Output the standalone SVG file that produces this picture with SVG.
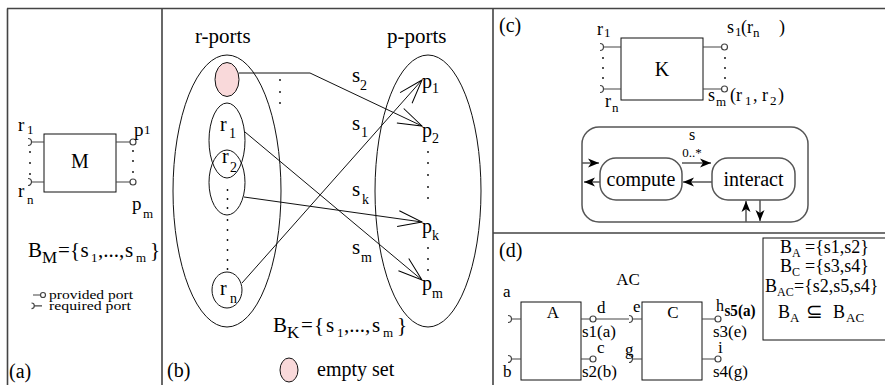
<svg xmlns="http://www.w3.org/2000/svg" width="885" height="385" viewBox="0 0 885 385">
<defs>
<style>
text{font-family:"Liberation Serif","Times New Roman",serif;fill:#000}
.f21{font-size:21px}
.f20{font-size:20px}
.f19{font-size:19px}
.f18{font-size:18px}
.f17{font-size:17px}
.f16{font-size:16px}
.f14{font-size:14px}
.f13{font-size:13px}
.f12{font-size:12px}
.mid{text-anchor:middle}
.ln{fill:none;stroke:#111;stroke-width:1}
.pt{fill:none;stroke:#444;stroke-width:1.2}
.gl{fill:none;stroke:#555;stroke-width:1.5}
.frame{fill:none;stroke:#444;stroke-width:1.6}
.dot{fill:#000}
</style>
<marker id="open" markerUnits="userSpaceOnUse" viewBox="-26 -10 28 20" refX="0" refY="0" markerWidth="28" markerHeight="20" orient="auto">
<path d="M-24,-8 L0,0 L-24,8" fill="none" stroke="#000" stroke-width="1"/>
</marker>
<marker id="sol" markerUnits="userSpaceOnUse" viewBox="-12 -6 13 12" refX="0" refY="0" markerWidth="13" markerHeight="12" orient="auto">
<path d="M-11,-4.5 L0,0 L-11,4.5 L-8,0 z" fill="#000"/>
</marker>
</defs>
<rect width="885" height="385" fill="#fff"/>

<g id="frame">
<path class="frame" d="M7,8.5 H885 M7.5,8.5 V385 M162,8.5 V385 M493,8.5 V385 M493,233 H885"/>
</g>

<!-- Panel (a) -->
<g id="node-M">
<rect x="44" y="134" width="72" height="58" class="ln"/>
<text x="80" y="168" class="f20 mid">M</text>
<path class="pt" d="M28,138.5 A3.5,3.5 0 0 1 28,145.5 M31.5,142 H44 M28,178.5 A3.5,3.5 0 0 1 28,185.5 M31.5,182 H44 M116,142 H130 M116,182 H130"/>
<circle cx="133" cy="142" r="3" class="pt"/>
<circle cx="133" cy="182" r="3" class="pt"/>
<g class="dot"><circle cx="30" cy="152" r="0.9"/><circle cx="30" cy="163" r="0.9"/><circle cx="30" cy="174" r="0.9"/><circle cx="133" cy="151" r="0.9"/><circle cx="133" cy="161" r="0.9"/><circle cx="133" cy="172" r="0.9"/></g>
<text x="18" y="131" class="f19">r</text><text x="27" y="134" class="f13">1</text>
<text x="18" y="197" class="f19">r</text><text x="27" y="204" class="f13">n</text>
<text x="134" y="136" class="f19">p</text><text x="144" y="134" class="f13">1</text>
<text x="132" y="210" class="f19">p</text><text x="143" y="218" class="f13">m</text>
</g>
<g id="label-BM">
<text x="28" y="257" class="f21">B</text><text x="42" y="263" class="f17">M</text><text x="58" y="257" class="f21">=</text><text x="70" y="257" class="f21">{</text><text x="80.5" y="257" class="f21">s</text><text x="91" y="262" class="f13">1</text><text x="98" y="257" class="f21">,...,</text><text x="125" y="257" class="f21">s</text><text x="136" y="262" class="f13">m</text><text x="150" y="257" class="f21">}</text>
</g>
<g id="legend-a">
<path class="pt" d="M33,295 H40.5 M31.5,303 A2.8,2.8 0 0 1 31.5,308.6 M34.2,305.8 H42"/>
<circle cx="43" cy="295" r="2.5" class="pt"/>
<text x="49" y="299" class="f12" textLength="84" lengthAdjust="spacingAndGlyphs">provided port</text>
<text x="49" y="310" class="f12" textLength="82" lengthAdjust="spacingAndGlyphs">required port</text>
</g>
<text x="9" y="378" class="f20">(a)</text>

<!-- Panel (b) -->
<text x="195" y="43" class="f21">r-ports</text>
<text x="387" y="43" class="f21">p-ports</text>
<g id="node-rports">
<ellipse cx="227" cy="191" rx="54" ry="136" class="ln"/>
<ellipse cx="227" cy="79.5" rx="12" ry="17" fill="#f9d9da" stroke="#111" stroke-width="1"/>
<ellipse cx="227" cy="140.5" rx="18" ry="37.5" class="ln"/>
<ellipse cx="227" cy="182.5" rx="18" ry="32.5" class="ln"/>
<ellipse cx="227" cy="290" rx="15" ry="18" class="ln"/>
<text x="220" y="131" class="f20">r</text><text x="229" y="138" class="f14">1</text>
<text x="222" y="163" class="f20">r</text><text x="230" y="172" class="f14">2</text>
<text x="220" y="295" class="f20">r</text><text x="230" y="303" class="f14">n</text>
<g class="dot"><circle cx="227.5" cy="190" r="0.9"/><circle cx="227.5" cy="199" r="0.9"/><circle cx="227.5" cy="208" r="0.9"/><circle cx="227.5" cy="220" r="0.9"/><circle cx="227.5" cy="230" r="0.9"/><circle cx="227.5" cy="240" r="0.9"/><circle cx="227.5" cy="250" r="0.9"/><circle cx="227.5" cy="260" r="0.9"/><circle cx="227.5" cy="269" r="0.9"/>
<circle cx="280" cy="80" r="0.9"/><circle cx="280" cy="92" r="0.9"/><circle cx="280" cy="103" r="0.9"/></g>
</g>
<g id="node-pports">
<ellipse cx="428" cy="191" rx="53" ry="136" class="ln"/>
<text x="422" y="88" class="f20">p</text><text x="432" y="93" class="f14">1</text>
<text x="422" y="137" class="f20">p</text><text x="432" y="143" class="f14">2</text>
<text x="422" y="233" class="f20">p</text><text x="432" y="240" class="f14">k</text>
<text x="422" y="290" class="f20">p</text><text x="432" y="298" class="f14">m</text>
<g class="dot"><circle cx="428" cy="152" r="0.9"/><circle cx="428" cy="163" r="0.9"/><circle cx="428" cy="175" r="0.9"/><circle cx="428" cy="187" r="0.9"/><circle cx="428" cy="198" r="0.9"/>
<circle cx="428" cy="248" r="0.9"/><circle cx="428" cy="259" r="0.9"/><circle cx="428" cy="270" r="0.9"/></g>
</g>
<g id="connectors-b">
<path class="ln" d="M239,73 H310 L422,126" marker-end="url(#open)"/>
<path class="ln" d="M242,283 L422,80" marker-end="url(#open)"/>
<path class="ln" d="M245,132 L422,280" marker-end="url(#open)"/>
<path class="ln" d="M244,197 L422,222" marker-end="url(#open)"/>
<text x="352" y="82" class="f21">s</text><text x="360" y="90" class="f14">2</text>
<text x="352" y="130" class="f21">s</text><text x="361" y="137" class="f14">1</text>
<text x="352" y="196" class="f21">s</text><text x="362" y="204" class="f14">k</text>
<text x="352" y="254" class="f21">s</text><text x="361" y="262" class="f14">m</text>
</g>
<g id="label-BK">
<text x="273" y="332" class="f21">B</text><text x="287" y="338" class="f17">K</text><text x="301" y="332" class="f21">=</text><text x="314" y="332" class="f21">{</text><text x="326" y="332" class="f21">s</text><text x="337" y="337" class="f13">1</text><text x="344" y="332" class="f21">,...,</text><text x="372" y="332" class="f21">s</text><text x="383" y="337" class="f13">m</text><text x="397" y="332" class="f21">}</text>
</g>
<g id="legend-b">
<ellipse cx="289" cy="370" rx="9" ry="12" fill="#f9d9da" stroke="#111" stroke-width="1"/>
<text x="317" y="376" class="f20">empty set</text>
</g>
<text x="167" y="377" class="f20">(b)</text>

<!-- Panel (c) -->
<text x="499" y="32" class="f20">(c)</text>
<g id="node-K">
<rect x="621" y="38" width="82" height="62" class="ln"/>
<text x="662" y="76" class="f20 mid">K</text>
<path class="pt" d="M600,43.5 A3.5,3.5 0 0 1 600,50.5 M603.5,47 H621 M600,85.5 A3.5,3.5 0 0 1 600,92.5 M603.5,89 H621 M703,47 H721.5 M703,89 H721.5"/>
<circle cx="724.5" cy="47" r="3" class="pt"/>
<circle cx="724.5" cy="89" r="3" class="pt"/>
<g class="dot"><circle cx="603" cy="58" r="0.9"/><circle cx="603" cy="68" r="0.9"/><circle cx="603" cy="78" r="0.9"/><circle cx="725" cy="58" r="0.9"/><circle cx="725" cy="68" r="0.9"/><circle cx="725" cy="78" r="0.9"/></g>
<text x="597" y="35" class="f18">r</text><text x="604" y="37" class="f13">1</text>
<text x="605" y="107" class="f18">r</text><text x="612" y="112" class="f13">n</text>
<text x="727" y="33" class="f18">s</text><text x="735" y="36" class="f13">1</text><text x="741" y="33" class="f18">(r</text><text x="753" y="37" class="f13">n</text><text x="779" y="33" class="f18">)</text>
<text x="708" y="101" class="f18">s</text><text x="716" y="106" class="f13">m</text><text x="730" y="101" class="f18">(r</text><text x="745" y="105" class="f13">1</text><text x="753" y="101" class="f18">,</text><text x="762" y="101" class="f18">r</text><text x="770" y="105" class="f13">2</text><text x="778" y="101" class="f18">)</text>
</g>
<g id="node-s">
<rect x="582" y="127" width="226" height="95" rx="17" class="gl"/>
<text x="692" y="140" class="f16 mid">s</text>
</g>
<g id="node-compute">
<rect x="600" y="158" width="82" height="42" rx="16" class="gl"/>
<text x="641" y="186" class="f20 mid">compute</text>
</g>
<g id="node-interact">
<rect x="712" y="158" width="83" height="42" rx="16" class="gl"/>
<text x="753.5" y="186" class="f20 mid">interact</text>
</g>
<g id="connectors-c">
<path class="gl" d="M582,163 H599" marker-end="url(#sol)"/>
<path class="gl" d="M600,182 H584" marker-end="url(#sol)"/>
<path class="gl" d="M682,163 H711" marker-end="url(#sol)"/>
<path class="gl" d="M712,182 H683" marker-end="url(#sol)"/>
<path class="gl" d="M746,222 V201" marker-end="url(#sol)"/>
<path class="gl" d="M760,200 V221" marker-end="url(#sol)"/>
<text x="692" y="157" class="f13 mid">0..*</text>
</g>

<!-- Panel (d) -->
<text x="499" y="257" class="f20">(d)</text>
<text x="628" y="285" class="f17 mid">AC</text>
<g id="node-A">
<rect x="521" y="302" width="60" height="78" class="ln"/>
<text x="553" y="318" class="f17 mid">A</text>
<path class="pt" d="M508,315.5 A3.5,3.5 0 0 1 508,322.5 M511.5,319 H521 M508,355.5 A3.5,3.5 0 0 1 508,362.5 M511.5,359 H521 M581,319 H590 M581,359 H590"/>
<circle cx="593" cy="319" r="3" class="pt"/>
<circle cx="593" cy="359" r="3" class="pt"/>
<text x="503" y="297" class="f17">a</text>
<text x="503" y="377" class="f17">b</text>
<text x="597" y="313" class="f17">d</text>
<text x="582" y="337" class="f17">s1(a)</text>
<text x="597" y="353" class="f17">c</text>
<text x="582" y="377" class="f17">s2(b)</text>
</g>
<g id="node-C">
<rect x="642" y="302" width="60" height="78" class="ln"/>
<text x="673" y="318" class="f17 mid">C</text>
<path class="pt" d="M629,315.5 A3.5,3.5 0 0 1 629,322.5 M632.5,319 H642 M629,355.5 A3.5,3.5 0 0 1 629,362.5 M632.5,359 H642 M702,319 H715 M702,359 H715"/>
<circle cx="718" cy="319" r="3" class="pt"/>
<circle cx="718" cy="359" r="3" class="pt"/>
<text x="633" y="312" class="f17">e</text>
<text x="625" y="355" class="f17">g</text>
<text x="716" y="311" class="f16">h</text>
<text x="724.5" y="316" class="f16" font-weight="bold" textLength="31" lengthAdjust="spacingAndGlyphs">s5(a)</text>
<text x="713" y="337" class="f17">s3(e)</text>
<text x="718" y="353" class="f17">i</text>
<text x="713" y="377" class="f17">s4(g)</text>
</g>
<g id="connectors-d">
<path class="pt" d="M596,319 H629"/>
</g>
<g id="legend-d">
<rect x="763" y="238" width="130" height="102" class="ln"/>
<text x="780" y="253" class="f18">B</text><text x="792" y="257" class="f12">A</text><text x="805" y="253" class="f18">={s1,s2}</text>
<text x="780" y="272" class="f18">B</text><text x="792" y="276" class="f12">C</text><text x="805" y="272" class="f18">={s3,s4}</text>
<text x="765" y="292" class="f18">B</text><text x="777" y="296" class="f12">AC</text><text x="794" y="292" class="f18">={s2,s5,s4}</text>
<text x="778" y="318" class="f18">B</text><text x="790" y="322" class="f13">A</text><text x="806" y="318" class="f20">⊆</text><text x="833" y="318" class="f18">B</text><text x="846" y="322" class="f13">AC</text>
</g>
</svg>
